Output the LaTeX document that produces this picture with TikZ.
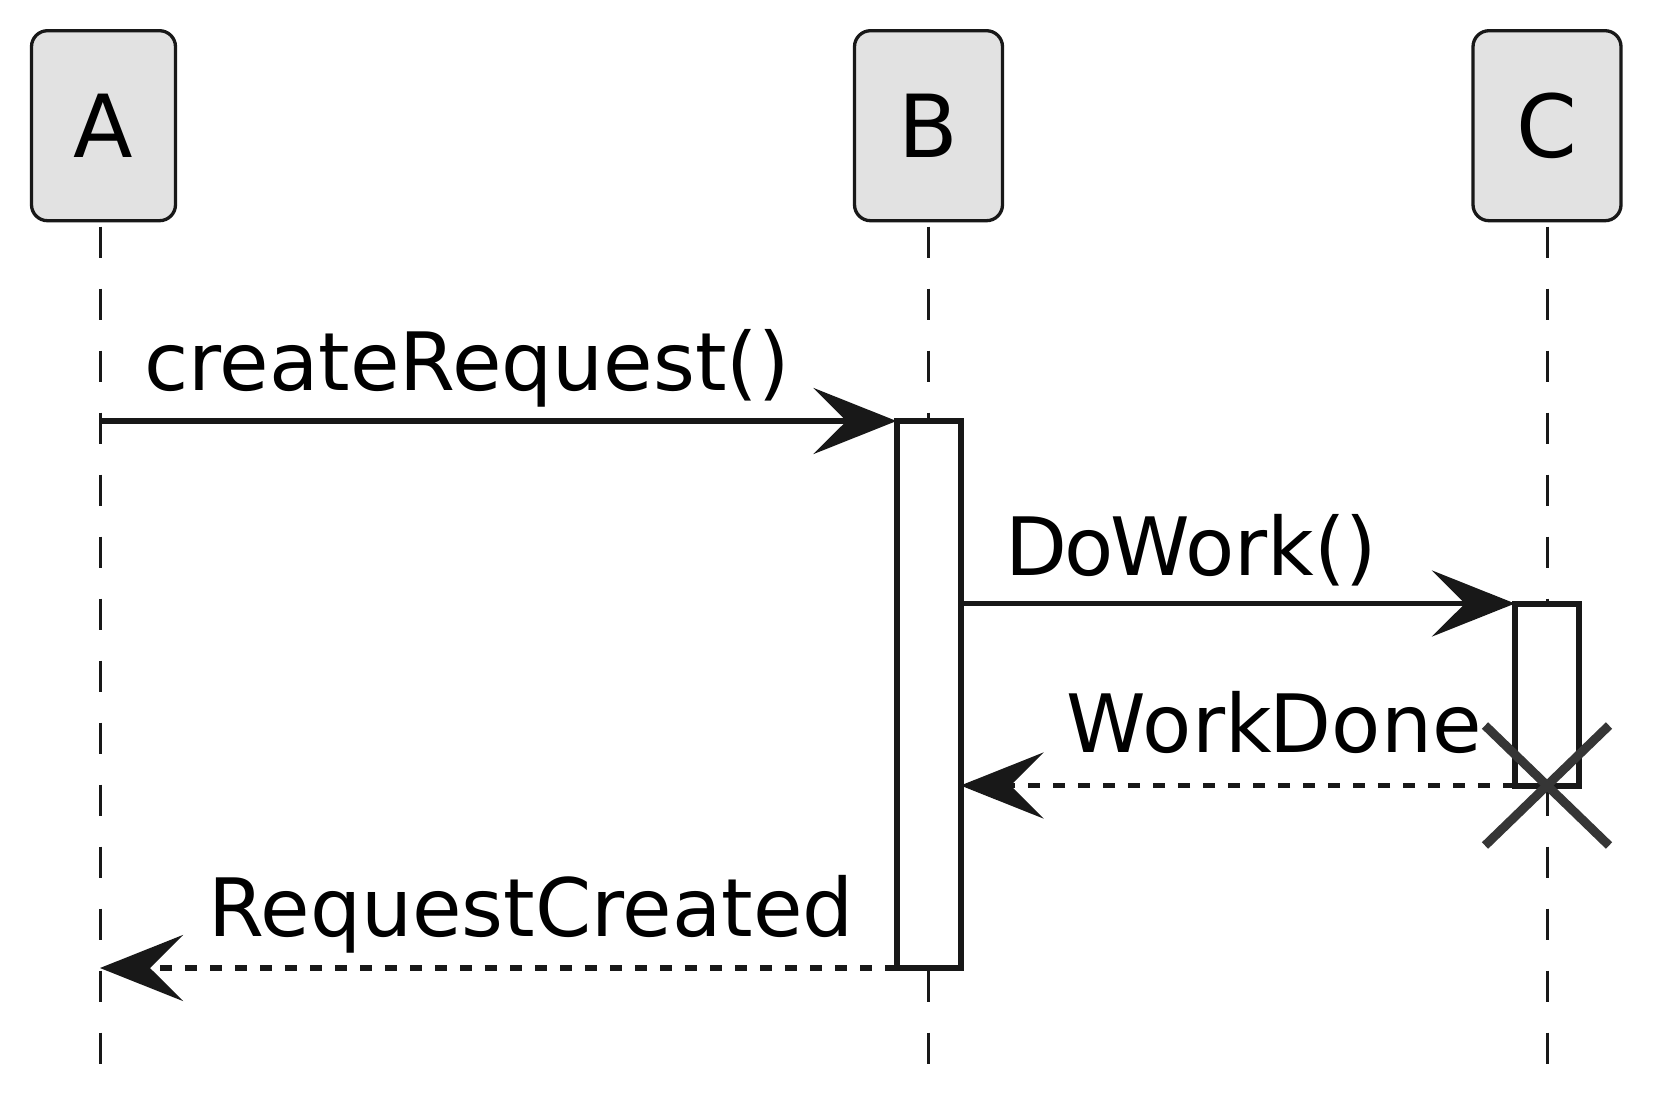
\documentclass[tikz,border=0pt]{standalone}
\usepackage{fontspec}
\setmainfont{DejaVu Sans}
\usetikzlibrary{arrows.meta}
\definecolor{boxfill}{HTML}{E2E2E2}
\definecolor{linecolor}{HTML}{181818}
\definecolor{crosscolor}{HTML}{363636}

\tikzset{
  participant/.style={draw=linecolor, fill=boxfill, line width=3.3pt, rounded corners=16pt,
    minimum height=190pt, inner sep=0pt, outer sep=0pt, text height=63pt, text depth=0pt,
    font=\fontsize{87}{100}\selectfont},
  lifeline/.style={draw=linecolor, line width=3pt, dash pattern=on 31pt off 31pt},
  activation/.style={draw=linecolor, fill=white, line width=6pt, minimum width=64pt,
    inner sep=0pt, outer sep=0pt},
  msg/.style={draw=linecolor, line width=5.5pt, -{Stealth[length=83pt, width=66pt, inset=33pt]}},
  reply/.style={msg, dash pattern=on 11.7pt off 13.3pt},
  msglabel/.style={anchor=base west, inner sep=0pt, font=\fontsize{80.5}{96}\selectfont},
  cross/.style={draw=crosscolor, line width=9pt},
}

\begin{document}
\begin{tikzpicture}[x=1pt, y=-1pt]
    \useasboundingbox (0,0) rectangle (1653,1117);

    % participants
    \node[participant, minimum width=144pt] (a) at (103.5,125.7) {A};
    \node[participant, minimum width=148pt] (b) at (928.5,125.7) {B};
    \node[participant, minimum width=148pt] (c) at (1547,125.7) {C};

    % lifelines
    \coordinate (aTop) at (100,226.7);
    \coordinate (aEnd) at (100,1070);
    \coordinate (bTop) at (928.5,226.7);
    \coordinate (bEnd) at (928.5,1070);
    \coordinate (cTop) at (1547,226.7);
    \coordinate (cEnd) at (1547,1070);
    \draw[lifeline] (aTop) -- (aEnd);
    \draw[lifeline] (bTop) -- (bEnd);
    \draw[lifeline] (cTop) -- (cEnd);

    % activations
    \node[activation, minimum height=547pt] (actB) at (928.5,694.5) {};
    \node[activation, minimum height=182pt] (actC) at (1547,694.5) {};

    % messages
    \draw[msg] (aTop |- actB.north west) -- (actB.north west);
    \draw[msg] (actB.east |- actC.north west) -- (actC.north west);
    \draw[reply] (actC.south west) -- (actB.east |- actC.south west);
    \draw[reply] (actB.south west) -- (aTop |- actB.south west);

    \node[msglabel] (createLbl) at (144,390) {createRequest()};
    \node[msglabel] (workLbl) at (1005,575) {D\kern-3pt o\kern-3pt Work()};
    \node[msglabel] (doneLbl) at (1066,752) {W\kern-3pt ork\kern-2pt Done};
    \node[msglabel] (createdLbl) at (208,936) {RequestCreated};

    % destroy C
    \draw[cross] (actC.south) +(-62,-60) -- +(62,60)
                 (actC.south) +(-62,60) -- +(62,-60);
\end{tikzpicture}
\end{document}
